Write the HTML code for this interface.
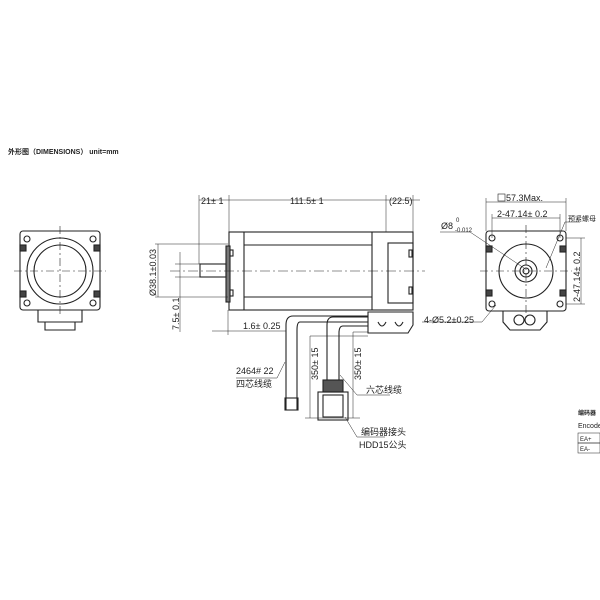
<!DOCTYPE html>
<html><head><meta charset="utf-8"><style>
html,body{margin:0;padding:0;background:#fff}
svg{display:block}
text{font-family:"Liberation Sans","Noto Sans CJK SC",sans-serif;fill:#222}
</style></head><body>
<svg width="600" height="600" viewBox="0 0 600 600" xmlns="http://www.w3.org/2000/svg">
<g stroke="#222" fill="none" stroke-width="1.1">
<rect x="20" y="231" width="80" height="79" rx="3"/>
<circle cx="60" cy="271" r="33"/>
<circle cx="60" cy="271" r="26"/>
<circle cx="27" cy="239" r="3"/><circle cx="93" cy="239" r="3"/>
<circle cx="27" cy="303" r="3"/><circle cx="93" cy="303" r="3"/>
<rect x="20" y="245" width="6" height="6" fill="#444"/><rect x="94" y="245" width="6" height="6" fill="#444"/>
<rect x="20" y="291" width="6" height="6" fill="#444"/><rect x="94" y="291" width="6" height="6" fill="#444"/>
<path d="M38 310 V322 H45 V330 H75 V322 H82 V310"/>
<path d="M45 322 H75"/>
<line x1="60" y1="226" x2="60" y2="316" stroke-dasharray="8,3,2,3" stroke-width="0.6"/>
<line x1="14" y1="271" x2="106" y2="271" stroke-dasharray="8,3,2,3" stroke-width="0.6"/>

<rect x="229" y="232" width="184" height="78"/>
<line x1="244" y1="232" x2="244" y2="310"/>
<line x1="372" y1="232" x2="372" y2="310"/>
<line x1="244" y1="245" x2="372" y2="245"/>
<line x1="244" y1="297" x2="372" y2="297"/>
<rect x="388" y="243" width="25" height="60"/>
<rect x="226" y="246" width="4" height="56" fill="#777"/>
<rect x="230" y="250" width="3" height="6"/><rect x="230" y="290" width="3" height="6"/>
<rect x="409" y="250" width="3" height="7"/><rect x="409" y="287" width="3" height="7"/>
<rect x="200" y="264" width="26" height="13"/>
<line x1="170" y1="271" x2="425" y2="271" stroke-dasharray="10,3,2,3" stroke-width="0.6"/>
<line x1="199" y1="200" x2="386" y2="200" stroke-width="0.6"/>
<line x1="199" y1="195" x2="199" y2="264" stroke-width="0.5"/>
<line x1="229" y1="195" x2="229" y2="232" stroke-width="0.5"/>
<line x1="386" y1="195" x2="386" y2="232" stroke-width="0.5"/>
<line x1="413" y1="195" x2="413" y2="232" stroke-width="0.5"/>
<line x1="386" y1="200" x2="420" y2="200" stroke-width="0.5"/>
<line x1="155" y1="244" x2="228" y2="244" stroke-width="0.5"/>
<line x1="155" y1="297" x2="228" y2="297" stroke-width="0.5"/>
<line x1="158" y1="244" x2="158" y2="297" stroke-width="0.5"/>
<line x1="180" y1="252" x2="180" y2="332" stroke-width="0.5"/>
<line x1="175" y1="264" x2="200" y2="264" stroke-width="0.5"/>
<line x1="175" y1="277" x2="200" y2="277" stroke-width="0.5"/>
<line x1="212" y1="331" x2="286" y2="331" stroke-width="0.5"/>
<line x1="228" y1="310" x2="228" y2="335" stroke-width="0.5"/>
<path d="M368 312 H413 V325 L408 333 H368 Z"/>
<path d="M378 322 q4 8 8 0 M395 322 q4 8 8 0"/>
<path d="M368 316 H293 Q286 316 286 325 V410"/>
<path d="M368 322 H300 Q297 322 297 330 V410"/>
<rect x="285" y="398" width="13" height="12"/>
<path d="M368 317 H333 Q327 317 327 325 V385"/>
<path d="M368 326 H343 Q339 326 339 333 V385"/>
<rect x="323" y="380" width="20" height="12" fill="#555"/>
<rect x="318" y="392" width="30" height="28"/>
<rect x="323" y="395" width="20" height="22"/>
<line x1="310" y1="336" x2="310" y2="418" stroke-width="0.5"/>
<line x1="310" y1="336" x2="368" y2="336" stroke-width="0.5"/>
<line x1="353" y1="332" x2="353" y2="418" stroke-width="0.5"/>
<line x1="353" y1="332" x2="368" y2="332" stroke-width="0.5"/>
<line x1="305" y1="418" x2="360" y2="418" stroke-width="0.5"/>
<path d="M285 362 L277 378 H236" stroke-width="0.5"/>
<path d="M340 375 L357 395 H390" stroke-width="0.5"/>
<path d="M345 417 L357 437 H385" stroke-width="0.5"/>

<rect x="486" y="231" width="80" height="80" rx="3"/>
<circle cx="526" cy="271" r="27"/>
<circle cx="526" cy="271" r="11"/>
<circle cx="526" cy="271" r="6"/>
<circle cx="526" cy="271" r="3"/>
<circle cx="492" cy="238" r="3"/><circle cx="560" cy="238" r="3"/>
<circle cx="492" cy="304" r="3"/><circle cx="560" cy="304" r="3"/>
<rect x="486" y="246" width="6" height="6" fill="#444"/><rect x="560" y="246" width="6" height="6" fill="#444"/>
<rect x="486" y="290" width="6" height="6" fill="#444"/><rect x="560" y="290" width="6" height="6" fill="#444"/>
<path d="M503 311 V322 L510 330 H540 L547 322 V311"/>
<circle cx="519" cy="320" r="5"/><circle cx="530" cy="320" r="5"/>
<line x1="526" y1="225" x2="526" y2="318" stroke-dasharray="8,3,2,3" stroke-width="0.6"/>
<line x1="480" y1="271" x2="572" y2="271" stroke-dasharray="8,3,2,3" stroke-width="0.6"/>
<line x1="486" y1="198" x2="486" y2="231" stroke-width="0.5"/>
<line x1="566" y1="198" x2="566" y2="231" stroke-width="0.5"/>
<line x1="486" y1="202" x2="566" y2="202" stroke-width="0.5"/>
<line x1="492" y1="214" x2="492" y2="238" stroke-width="0.5"/>
<line x1="560" y1="214" x2="560" y2="238" stroke-width="0.5"/>
<line x1="492" y1="218" x2="560" y2="218" stroke-width="0.5"/>
<line x1="566" y1="238" x2="585" y2="238" stroke-width="0.5"/>
<line x1="566" y1="304" x2="585" y2="304" stroke-width="0.5"/>
<line x1="581" y1="238" x2="581" y2="304" stroke-width="0.5"/>
<path d="M440 232 H470 L524 268" stroke-width="0.5"/>
<path d="M422 322 H482 L496 305" stroke-width="0.5"/>
<path d="M546 268 L565 222 H580" stroke-width="0.5"/>
<rect x="578" y="433" width="22" height="10" stroke-width="0.5"/>
<rect x="578" y="443" width="22" height="10" stroke-width="0.5"/>
<rect x="498" y="194" width="7" height="7" stroke-width="0.6"/>
</g>
<g font-size="9">
<text x="8" y="154" font-size="7" font-weight="bold">外形图（DIMENSIONS）  unit=mm</text>
<text x="201" y="204">21± 1</text>
<text x="290" y="204">111.5± 1</text>
<text x="389" y="204">(22.5)</text>
<text transform="translate(156,296) rotate(-90)">Ø38.1±0.03</text>
<text transform="translate(179,330) rotate(-90)">7.5± 0.1</text>
<text x="243" y="329">1.6± 0.25</text>
<text x="236" y="374">2464# 22</text>
<text x="236" y="387">四芯线缆</text>
<text transform="translate(318,380) rotate(-90)">350± 15</text>
<text transform="translate(361,380) rotate(-90)">350± 15</text>
<text x="366" y="393">六芯线缆</text>
<text x="361" y="435">编码器接头</text>
<text x="359" y="448">HDD15公头</text>
<text x="506" y="201">57.3Max.</text>
<text x="497" y="217">2-47.14± 0.2</text>
<text x="441" y="229">Ø8</text><text x="456" y="222" font-size="6">0</text><text x="455" y="232" font-size="6">-0.012</text>
<text x="568" y="221" font-size="7">预紧螺母</text>
<text transform="translate(580,302) rotate(-90)">2-47.14± 0.2</text>
<text x="424" y="323">4-Ø5.2±0.25</text>
<text x="578" y="415" font-size="6" font-weight="bold">编码器</text>
<text x="578" y="428" font-size="7">Encode</text>
<text x="580" y="441" font-size="6">EA+</text>
<text x="580" y="451" font-size="6">EA-</text>
</g>
</svg>
</body></html>
